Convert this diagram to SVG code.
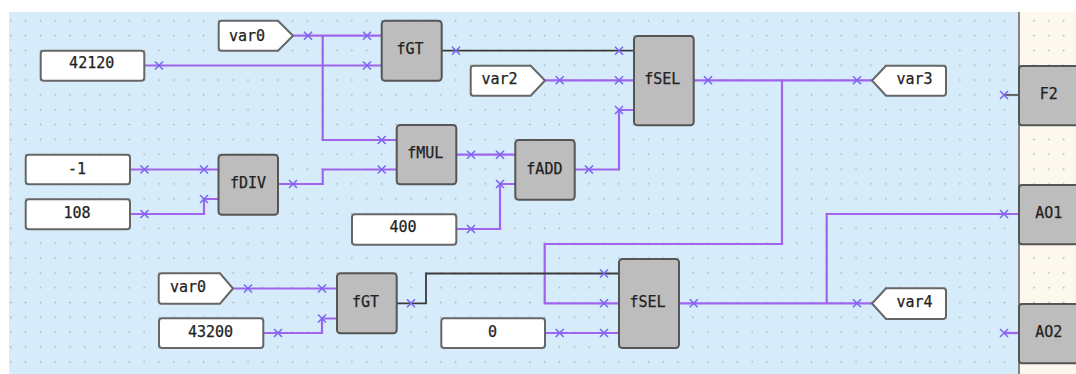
<svg xmlns="http://www.w3.org/2000/svg" xmlns:xlink="http://www.w3.org/1999/xlink" width="1076" height="374" viewBox="0 0 1076 374">
<style>
text{font-family:"DejaVu Sans Mono","Liberation Mono",monospace;font-size:15px;fill:#222;stroke:#222;stroke-width:.25;text-anchor:middle}
.b{fill:#bdbdbd;stroke:#555;stroke-width:2}
.w{fill:#fff;stroke:#666;stroke-width:2}
.p{fill:none;stroke:#a064ee;stroke-width:2.2;stroke-linejoin:miter}
.k{fill:none;stroke:#3a3a3a;stroke-width:1.8}
.g{fill:none;stroke:#666;stroke-width:2.2}
.x{fill:none;stroke:#7a68f2;stroke-width:1.6}
</style>
<defs>
<pattern id="dots" patternUnits="userSpaceOnUse" x="3.3" y="13.3" width="14.83" height="14.83">
<rect x="6.7" y="6.7" width="1.5" height="1.5" fill="#a8adb0"/>
</pattern>
<path id="m" class="x" d="M-4-4L4 4M-4 4L4-4"/>
</defs>
<rect width="1076" height="374" fill="#fff"/>
<rect x="9" y="12" width="1010" height="362" fill="#d7ecfa"/>
<rect x="1019" y="12" width="57" height="362" fill="#fdf8ee"/>
<rect x="9" y="12" width="1067" height="362" fill="url(#dots)"/>
<path d="M1019 12V374" stroke="#777" stroke-width="1.8" fill="none"/>
<g id="connectors">
<path class="p" d="M293 35.7H381.7M322.7 35.7V140H396.7"/>
<path class="p" d="M144.3 65.5H381.7"/>
<path class="p" d="M130 169.5H218.5"/>
<path class="p" d="M130 214H204V199H218.5"/>
<path class="p" d="M278 184H322.7V169.5H396.7"/>
<path class="k" d="M441.7 50.7H634"/>
<path class="p" d="M545 80.3H634"/>
<path class="p" d="M456.3 154.7H515.3"/>
<path class="p" d="M574.7 169.5H619V110H634"/>
<path class="p" d="M456.3 229H500V184H515.3"/>
<path class="p" d="M693.7 80.3H872M782 80.3V244H544.7V303.3H619"/>
<path class="k" d="M396.7 303.3H426V273.5H619"/>
<path class="p" d="M545 333H619"/>
<path class="p" d="M679 303.3H872M826.7 303.3V214H1019"/>
<path class="p" d="M1004 333H1019"/>
<path class="g" d="M1004 95H1019"/>
<path class="p" d="M233 288.5H337"/>
<path class="p" d="M263.3 333H322V318.5H337"/>
<g id="marks">
<use href="#m" x="308" y="35.7"/><use href="#m" x="367" y="35.7"/>
<use href="#m" x="159" y="65.5"/><use href="#m" x="367" y="65.5"/>
<use href="#m" x="381.7" y="140"/>
<use href="#m" x="144.5" y="169.5"/><use href="#m" x="204" y="169.5"/>
<use href="#m" x="144.5" y="214"/><use href="#m" x="204" y="199"/>
<use href="#m" x="293" y="184"/><use href="#m" x="381.7" y="169.5"/>
<use href="#m" x="456" y="50.7"/><use href="#m" x="619" y="50.7"/>
<use href="#m" x="559.7" y="80.3"/><use href="#m" x="619" y="80.3"/>
<use href="#m" x="471" y="154.7"/><use href="#m" x="500" y="154.7"/>
<use href="#m" x="589" y="169.5"/><use href="#m" x="619" y="110"/>
<use href="#m" x="471" y="229"/><use href="#m" x="500" y="184"/>
<use href="#m" x="708" y="80.3"/><use href="#m" x="857" y="80.3"/>
<use href="#m" x="604" y="303.3"/>
<use href="#m" x="411" y="303.3"/><use href="#m" x="604" y="273.5"/>
<use href="#m" x="559.7" y="333"/><use href="#m" x="604" y="333"/>
<use href="#m" x="693.7" y="303.3"/><use href="#m" x="857" y="303.3"/>
<use href="#m" x="1004" y="214"/><use href="#m" x="1004" y="333"/><use href="#m" x="1004" y="95"/>
<use href="#m" x="248" y="288.5"/><use href="#m" x="322" y="288.5"/>
<use href="#m" x="278" y="333"/><use href="#m" x="322" y="318.5"/>
</g>
</g>
<g id="var0a"><path class="w" d="M221.5 20.7H278L293 35.7L278 50.7H221.5Q218.7 50.7 218.7 48V23.5Q218.7 20.7 221.5 20.7Z"/><text x="247" y="40.7">var0</text></g>
<g id="c42120"><rect class="w" x="40.7" y="50.7" width="103.6" height="30" rx="3"/><text x="91.7" y="68.3">42120</text></g>
<g id="cm1"><rect class="w" x="25.7" y="154.7" width="104.3" height="29.6" rx="3"/><text x="77" y="174">-1</text></g>
<g id="c108"><rect class="w" x="25.7" y="199.3" width="104.3" height="30" rx="3"/><text x="77" y="218">108</text></g>
<g id="fdiv"><rect class="b" x="218.5" y="154.7" width="59.5" height="60" rx="3.5"/><text x="248" y="188">fDIV</text></g>
<g id="fgt1"><rect class="b" x="381.7" y="20.7" width="60" height="60" rx="3.5"/><text x="410" y="54.3">fGT</text></g>
<g id="fsel1"><rect class="b" x="634" y="36" width="59.7" height="89.3" rx="3.5"/><text x="662.3" y="84.3">fSEL</text></g>
<g id="var2"><path class="w" d="M473.5 65.7H530.7L545 80.5L530.7 95.7H473.5Q470.7 95.7 470.7 93V68.5Q470.7 65.7 473.5 65.7Z"/><text x="499.5" y="84.3">var2</text></g>
<g id="fmul"><rect class="b" x="396.7" y="125" width="59.6" height="59.3" rx="3.5"/><text x="425.3" y="158.3">fMUL</text></g>
<g id="fadd"><rect class="b" x="515.3" y="140" width="59.4" height="59.7" rx="3.5"/><text x="544.4" y="174">fADD</text></g>
<g id="c400"><rect class="w" x="352" y="214.3" width="104.3" height="30.4" rx="3"/><text x="403" y="232.3">400</text></g>
<g id="var3"><path class="w" d="M872 80.5L886 65.7H943Q946 65.7 946 68.5V93Q946 95.7 943 95.7H886Z"/><text x="914.5" y="84.3">var3</text></g>
<g id="f2"><path class="b" d="M1078 66H1022Q1019 66 1019 69V122.3Q1019 125.3 1022 125.3H1078"/><text x="1048.8" y="98.7">F2</text></g>
<g id="ao1"><path class="b" d="M1078 185H1022Q1019 185 1019 188V241.3Q1019 244.3 1022 244.3H1078"/><text x="1048.8" y="218.3">AO1</text></g>
<g id="ao2"><path class="b" d="M1078 304H1022Q1019 304 1019 307V360.3Q1019 363.3 1022 363.3H1078"/><text x="1048.8" y="337.3">AO2</text></g>
<g id="var4"><path class="w" d="M872 303.5L886 288.3H943Q946 288.3 946 291V316Q946 319 943 319H886Z"/><text x="914.5" y="307.3">var4</text></g>
<g id="fsel2"><rect class="b" x="619" y="259" width="60" height="89" rx="3.5"/><text x="647.5" y="307.3">fSEL</text></g>
<g id="c0"><rect class="w" x="441.3" y="318.3" width="103.7" height="29.7" rx="3"/><text x="492.5" y="337.3">0</text></g>
<g id="fgt2"><rect class="b" x="337" y="273.3" width="59.7" height="60" rx="3.5"/><text x="365.5" y="307.3">fGT</text></g>
<g id="var0b"><path class="w" d="M161.5 273.3H220L233 288.5L220 303.7H161.5Q158.7 303.7 158.7 301V276Q158.7 273.3 161.5 273.3Z"/><text x="188" y="292.3">var0</text></g>
<g id="c43200"><rect class="w" x="159" y="318.3" width="104.3" height="29.7" rx="3"/><text x="210.5" y="337.3">43200</text></g>
</svg>
